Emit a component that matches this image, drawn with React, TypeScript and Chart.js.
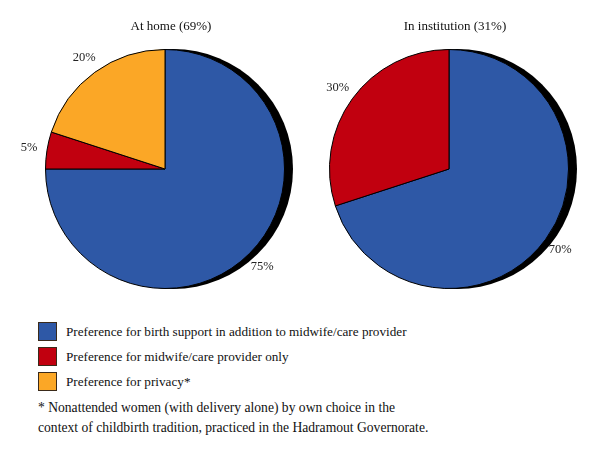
import React, { useEffect, useRef } from "react";
import { Chart, registerables } from "chart.js";

Chart.register(...registerables);

const categories = [
  "Preference for birth support in addition to midwife/care provider",
  "Preference for midwife/care provider only",
  "Preference for privacy*",
];
const sliceColors = ["#2E58A6", "#C1000F", "#FBA726"];
const homeValues = [75, 5, 20];
const institutionValues = [70, 30];
const chartTitles = ["At home (69%)", "In institution (31%)"];
const footnoteLines = [
  "* Nonattended women (with delivery alone) by own choice in the",
  "context of childbirth tradition, practiced in the Hadramout Governorate.",
];

const FONT = "'Liberation Serif', 'DejaVu Serif', serif";

const shadowPlugin = {
  id: "pieShadow",
  beforeDatasetsDraw(chart: any) {
    const arc = chart.getDatasetMeta(0).data[0];
    if (!arc) return;
    const { x, y, outerRadius } = arc.getProps(["x", "y", "outerRadius"], true);
    const ctx = chart.ctx;
    ctx.save();
    ctx.beginPath();
    ctx.arc(x + 8, y, outerRadius + 0.5, 0, Math.PI * 2);
    ctx.fillStyle = "#000";
    ctx.fill();
    ctx.restore();
  },
};

const labelPlugin = {
  id: "pieLabels",
  afterDatasetsDraw(chart: any) {
    const meta = chart.getDatasetMeta(0);
    const data = chart.data.datasets[0].data as number[];
    const ctx = chart.ctx;
    ctx.save();
    ctx.font = `12.5px ${FONT}`;
    ctx.fillStyle = "#222";
    ctx.textAlign = "center";
    ctx.textBaseline = "middle";
    meta.data.forEach((arc: any, i: number) => {
      const v = data[i];
      if (!v) return;
      const { x, y, startAngle, endAngle, outerRadius } = arc.getProps(
        ["x", "y", "startAngle", "endAngle", "outerRadius"],
        true
      );
      const mid = (startAngle + endAngle) / 2;
      const r = outerRadius + 18;
      ctx.fillText(`${v}%`, x + Math.cos(mid) * r, y + Math.sin(mid) * r);
    });
    const first = meta.data[0];
    if (first) {
      const { x } = first.getProps(["x"], true);
      ctx.font = `13px ${FONT}`;
      ctx.fillStyle = "#111";
      ctx.fillText(chart.options.plugins.pieTitle.text, x + 6, 27);
    }
    ctx.restore();
  },
};

function PieCanvas({
  values,
  title,
  padding,
}: {
  values: number[];
  title: string;
  padding: { left: number; right: number; top: number; bottom: number };
}) {
  const ref = useRef<HTMLCanvasElement | null>(null);
  useEffect(() => {
    if (!ref.current) return;
    const chart = new Chart(ref.current, {
      type: "pie",
      data: {
        labels: categories.slice(0, values.length),
        datasets: [
          {
            data: values,
            backgroundColor: sliceColors.slice(0, values.length),
            borderColor: "#000",
            borderWidth: 1,
          },
        ],
      },
      options: {
        responsive: false,
        animation: false,
        events: [],
        layout: { padding },
        plugins: {
          legend: { display: false },
          tooltip: { enabled: false },
          title: { display: false },
          // @ts-ignore
          pieTitle: { text: title },
        },
      },
      plugins: [shadowPlugin, labelPlugin],
    });
    return () => chart.destroy();
  }, []);
  return <canvas ref={ref} width={300} height={300} style={{ width: 300, height: 300, display: "block" }} />;
}

export default function App() {
  useEffect(() => {
    document.body.style.margin = "0";
  }, []);
  return (
    <div style={{ position: "relative", width: 600, height: 457, background: "#fff", fontFamily: FONT, color: "#111" }}>
      <div style={{ position: "absolute", left: 0, top: 0 }}>
        <PieCanvas values={homeValues} title={chartTitles[0]} padding={{ left: 45, right: 15, top: 49, bottom: 11 }} />
      </div>
      <div style={{ position: "absolute", left: 300, top: 0 }}>
        <PieCanvas values={institutionValues} title={chartTitles[1]} padding={{ left: 29, right: 31, top: 49, bottom: 11 }} />
      </div>
      {categories.map((c, i) => (
        <div
          key={c}
          style={{ position: "absolute", left: 38, top: 322 + i * 25, height: 19, display: "flex", alignItems: "center" }}
        >
          <div
            style={{
              width: 17,
              height: 17,
              background: sliceColors[i],
              border: "1px solid #3a2a1a",
              marginRight: 9,
              flexShrink: 0,
            }}
          />
          <span style={{ fontSize: 13.2, lineHeight: "19px", whiteSpace: "nowrap" }}>{c}</span>
        </div>
      ))}
      {footnoteLines.map((l, i) => (
        <div
          key={l}
          style={{ position: "absolute", left: 38, top: 398 + i * 20, fontSize: 13.6, lineHeight: "20px", whiteSpace: "nowrap" }}
        >
          {l}
        </div>
      ))}
    </div>
  );
}
